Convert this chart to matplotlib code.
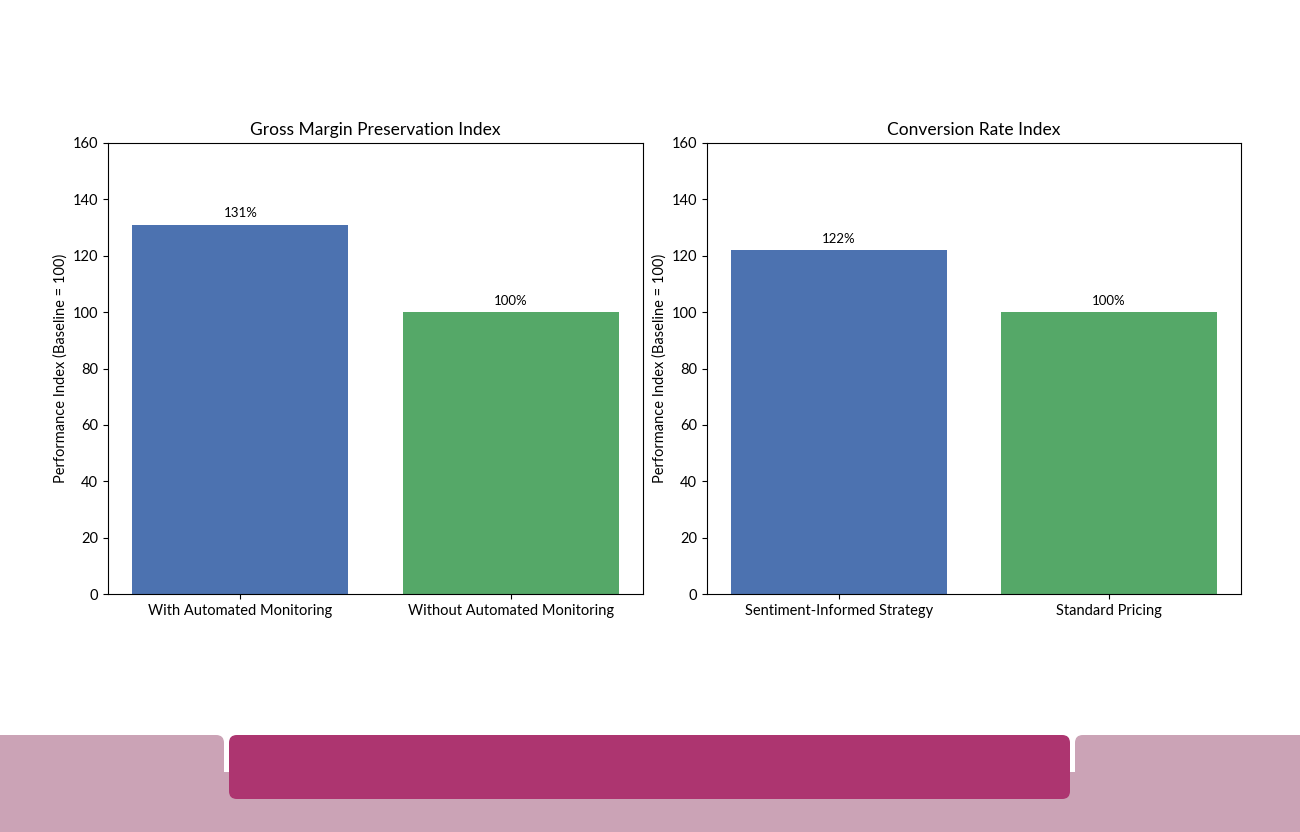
import matplotlib
matplotlib.use('Agg')
import matplotlib.pyplot as plt
from matplotlib.patches import FancyBboxPatch, Rectangle

plt.rcParams['font.family'] = ['Lato', 'DejaVu Sans']

# data
titles = ['Gross Margin Preservation Index', 'Conversion Rate Index']
cats_margin = ['With Automated Monitoring', 'Without Automated Monitoring']
vals_margin = [131, 100]
cats_conv = ['Sentiment-Informed Strategy', 'Standard Pricing']
vals_conv = [122, 100]
colors = ['#4C72B0', '#55A868']

fig = plt.figure(figsize=(13, 8.32), dpi=100)
W, H = 1300, 832

def px_axes(x0, y0, x1, y1):
    return fig.add_axes([x0 / W, 1 - y1 / H, (x1 - x0) / W, (y1 - y0) / H])

axes = [px_axes(108, 143, 643, 594), px_axes(707, 143, 1241, 594)]

for ax, title, cats, vals in zip(axes, titles, [cats_margin, cats_conv],
                                 [vals_margin, vals_conv]):
    bars = ax.bar(cats, vals, color=colors, width=0.8)
    for b, v in zip(bars, vals):
        ax.annotate(f'{v}%', xy=(b.get_x() + b.get_width() / 2, v),
                    xytext=(0, 4), textcoords='offset points',
                    ha='center', va='bottom', fontsize=9.5)
    ax.set_ylim(0, 160)
    ax.set_title(title, fontsize=12.5)
    ax.set_ylabel('Performance Index (Baseline = 100)', fontsize=10.5)
    ax.tick_params(labelsize=10.5)

# footer decoration
def fig_rect(x0, y0, x1, y1, color, rounded=True):
    if rounded:
        p = FancyBboxPatch((x0 / W, 1 - y1 / H), (x1 - x0) / W, (y1 - y0) / H,
                           boxstyle='round,pad=0,rounding_size=0.006',
                           transform=fig.transFigure, color=color, lw=0,
                           mutation_aspect=W / H)
    else:
        p = Rectangle((x0 / W, 1 - y1 / H), (x1 - x0) / W, (y1 - y0) / H,
                      transform=fig.transFigure, color=color, lw=0)
    fig.patches.append(p)

light = '#CBA3B6'
dark = '#AD3570'
fig_rect(0, 772, 1300, 832, light, rounded=False)
fig_rect(-10, 735, 224, 780, light)
fig_rect(1075, 735, 1310, 780, light)
fig_rect(229, 735, 1070, 799, dark)

fig.savefig('out.png', dpi=100)
